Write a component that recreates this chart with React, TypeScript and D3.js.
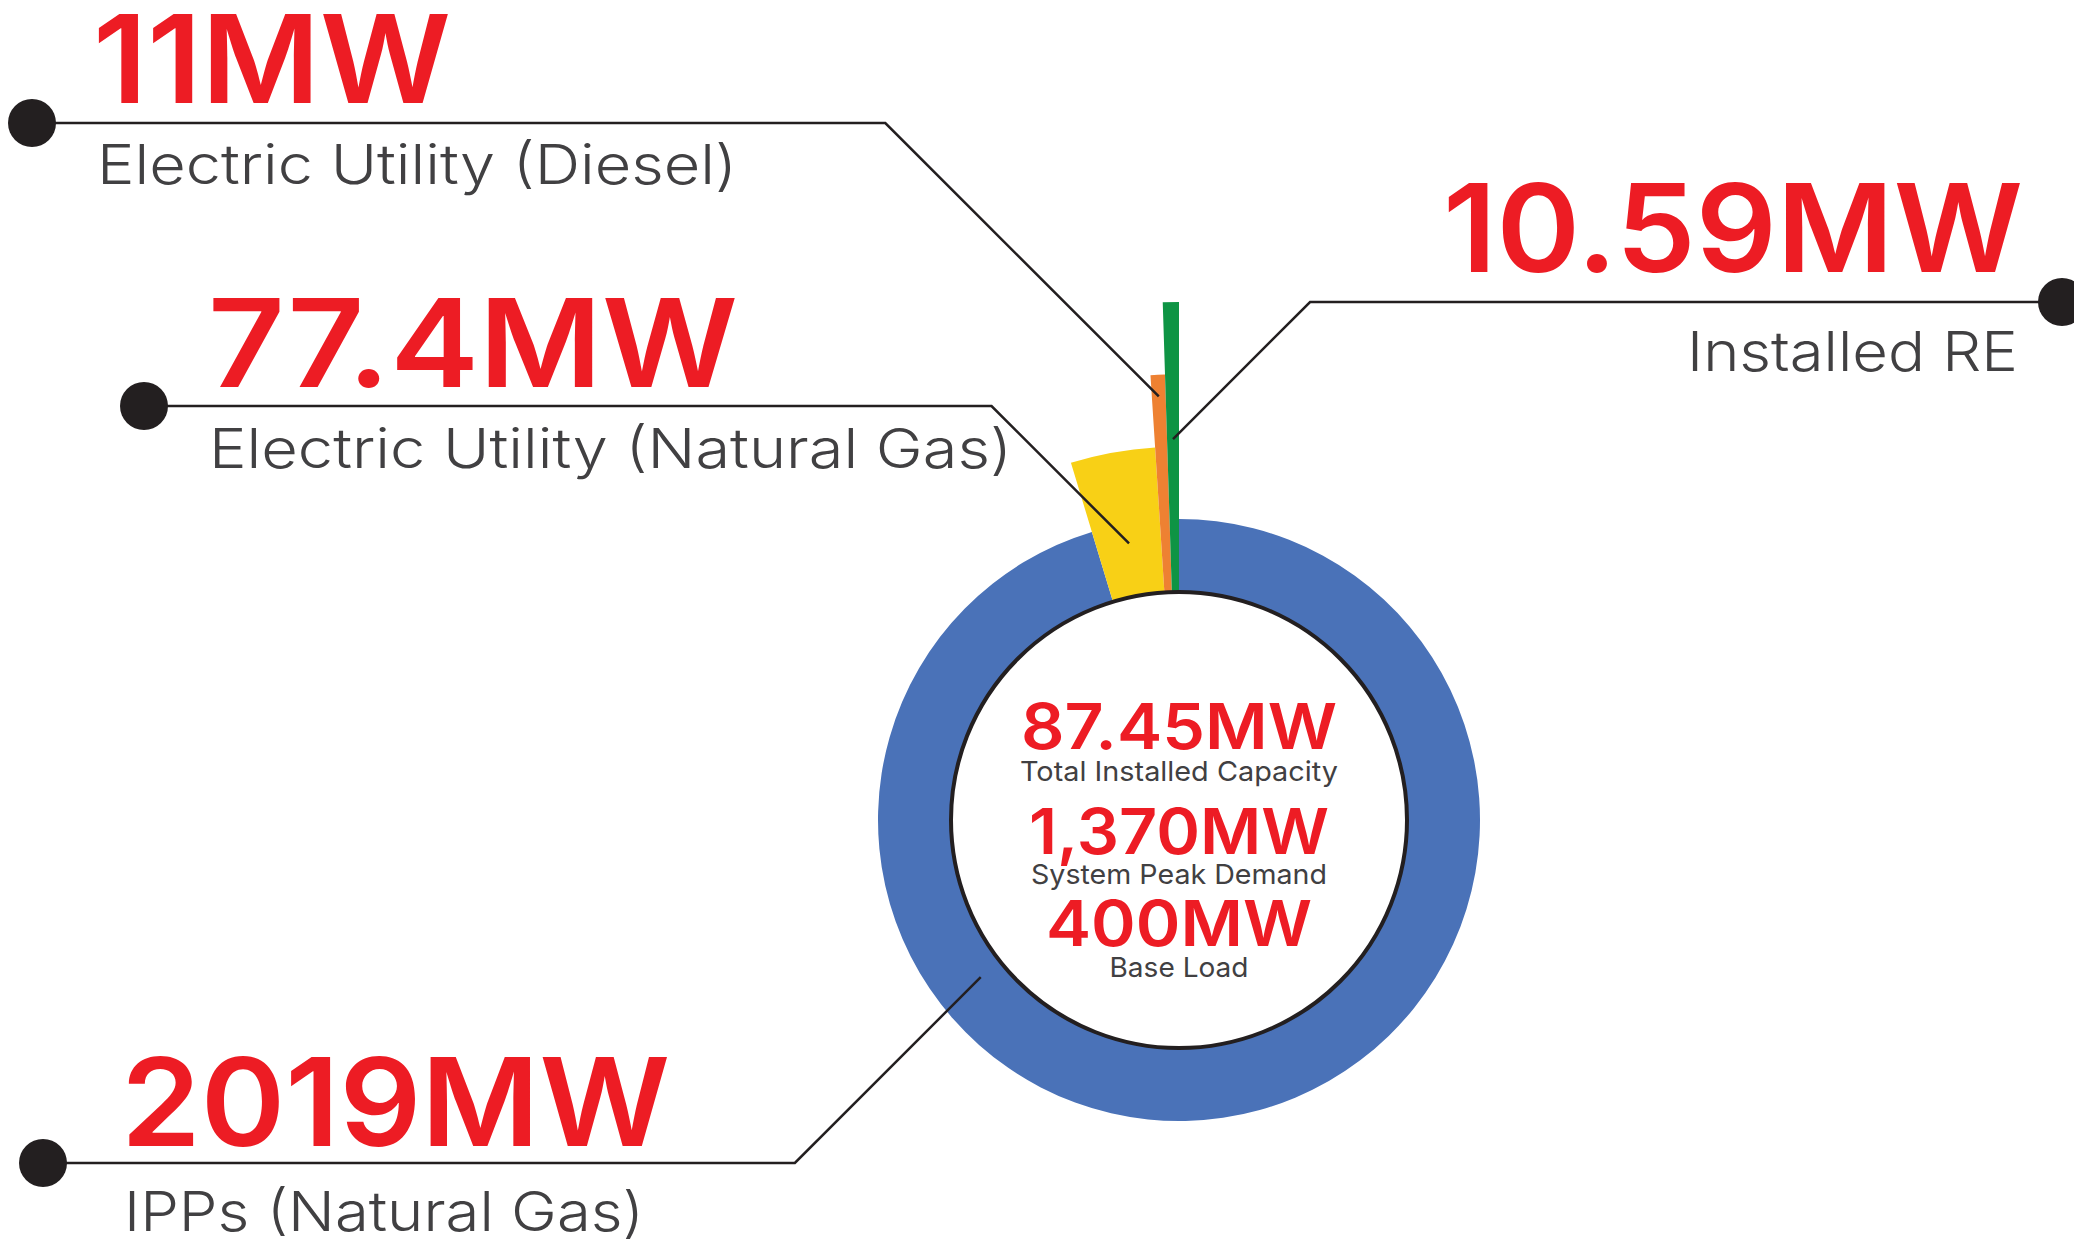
import React from 'react';
import * as d3 from 'd3';

// installed capacity by source (MW), clockwise from 12 o'clock
const sources = ['IPPs (Natural Gas)', 'Electric Utility (Natural Gas)', 'Electric Utility (Diesel)', 'Installed RE'];
const capacity = [2019, 77.4, 11, 10.59];
const capacityLabels = ['2019MW', '77.4MW', '11MW', '10.59MW'];
const colors = ['#4a72b8', '#f8d016', '#ee8132', '#0e9444'];

const centerValues = ['87.45MW', '1,370MW', '400MW'];
const centerCaptions = ['Total Installed Capacity', 'System Peak Demand', 'Base Load'];

const W = 2074;
const H = 1240;
const cx = 1179;
const cy = 820;
const innerR = 228;

const RED = '#ed1c24';
const GREY = '#414042';
const INK = '#231f20';
const FONT = 'Inter, "Open Sans", sans-serif';

// where each callout sits (same order as sources); widths stretch Inter out to the wider original face
const callouts = [
  { lineY: 1163, dotX: 43, numX: 121, capX: 124, side: 'left', numDy: -17, capDy: 68, angle: 231.6, r: 253, numW: 549, capW: 520 },
  { lineY: 406, dotX: 144, numX: 208, capX: 209, side: 'left', numDy: -19, capDy: 62, angle: null, r: 281, numW: 530, capW: 803 },
  { lineY: 123, dotX: 32, numX: 93, capX: 97, side: 'left', numDy: -20, capDy: 61, angle: null, r: 424, numW: 358, capW: 640 },
  { lineY: 302, dotX: 2062, numX: 2023, capX: 2018, side: 'right', numDy: -30, capDy: 69, angle: null, r: 381, numW: 580, capW: 331 },
];

const centerY = [749, 854, 946];
const centerW = [316, 300, 266];
const centerCapY = [781, 884, 977];
const centerCapW = [318, 296, 139];

export default function App() {
  const pie = d3.pie<number>().sort(null).value((d) => d);
  const slices = pie(capacity);

  const outer = d3.scaleLinear().domain([0, capacity.length - 1]).range([301, 518]);
  const arc = d3.arc<d3.PieArcDatum<number>>()
    .innerRadius(innerR)
    .outerRadius((d) => outer(d.index));

  const polar = (deg: number, r: number) => {
    const a = (deg * Math.PI) / 180;
    return [cx + r * Math.sin(a), cy - r * Math.cos(a)];
  };

  return (
    <svg width={W} height={H} style={{ position: 'absolute', left: 0, top: 0, background: '#fff' }}>
      <g transform={`translate(${cx},${cy})`}>
        {slices.map((s, i) => (
          <path key={i} d={arc(s) || ''} fill={colors[i]} />
        ))}
      </g>
      <circle cx={cx} cy={cy} r={innerR} fill="#fff" stroke={INK} strokeWidth={4} />

      {slices.map((s, i) => {
        const c = callouts[i];
        const deg = c.angle != null ? c.angle : (((s.startAngle + s.endAngle) / 2) * 180) / Math.PI;
        const [ex, ey] = polar(deg, c.r);
        const run = Math.abs(ey - c.lineY);
        const elbowX = c.side === 'left' ? ex - run : ex + run;
        const anchor = c.side === 'left' ? 'start' : 'end';
        return (
          <g key={i}>
            <polyline
              points={`${c.dotX},${c.lineY} ${elbowX},${c.lineY} ${ex},${ey}`}
              fill="none"
              stroke={INK}
              strokeWidth={2.5}
            />
            <circle cx={c.dotX} cy={c.lineY} r={24} fill={INK} />
            <text x={c.numX} y={c.lineY + c.numDy} fill={RED} fontFamily={FONT} fontWeight={600}
              fontSize={122} textAnchor={anchor} textLength={c.numW} lengthAdjust="spacingAndGlyphs">
              {capacityLabels[i]}
            </text>
            <text x={c.capX} y={c.lineY + c.capDy} fill={GREY} fontFamily={FONT}
              fontWeight={300} fontSize={55} textAnchor={anchor} textLength={c.capW} lengthAdjust="spacingAndGlyphs">
              {sources[i]}
            </text>
          </g>
        );
      })}

      {centerValues.map((v, i) => (
        <g key={v}>
          <text x={cx} y={centerY[i]} fill={RED} fontFamily={FONT} fontWeight={600} fontSize={63}
            textAnchor="middle" textLength={centerW[i]} lengthAdjust="spacingAndGlyphs">
            {v}
          </text>
          <text x={cx} y={centerCapY[i]} fill={GREY} fontFamily={FONT} fontWeight={400} fontSize={27.5}
            textAnchor="middle" textLength={centerCapW[i]} lengthAdjust="spacingAndGlyphs">
            {centerCaptions[i]}
          </text>
        </g>
      ))}
    </svg>
  );
}
